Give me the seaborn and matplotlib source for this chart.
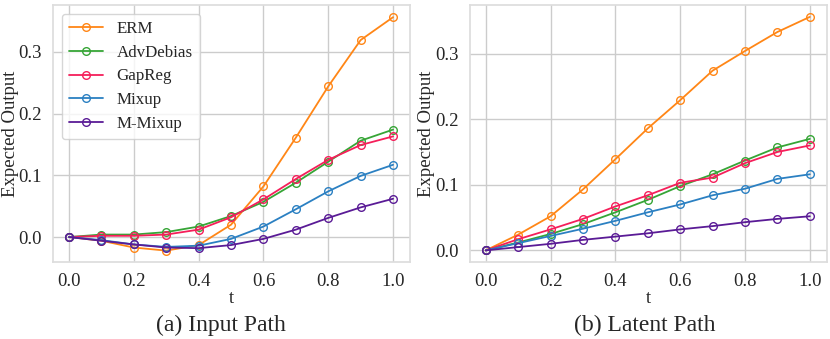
import numpy as np
import pandas as pd
import matplotlib
matplotlib.use('Agg')
import matplotlib.pyplot as plt
import seaborn as sns

# --- DATA ---
t = [0.0, 0.1, 0.2, 0.3, 0.4, 0.5, 0.6, 0.7, 0.8, 0.9, 1.0]
methods = ['ERM', 'AdvDebias', 'GapReg', 'Mixup', 'M-Mixup']
colors = ['#ff8616', '#36a536', '#f51f5a', '#2b80c2', '#5a1b96']

# (a) input path
input_erm = [0.0, -0.006, -0.017, -0.022, -0.013, 0.020, 0.082, 0.161, 0.244, 0.319, 0.356]
input_adv = [0.0, 0.004, 0.004, 0.008, 0.017, 0.034, 0.057, 0.088, 0.122, 0.156, 0.174]
input_gap = [0.0, 0.002, 0.002, 0.004, 0.012, 0.032, 0.061, 0.094, 0.125, 0.149, 0.163]
input_mix = [0.0, -0.005, -0.012, -0.016, -0.014, -0.003, 0.017, 0.045, 0.074, 0.099, 0.117]
input_mmix = [0.0, -0.006, -0.012, -0.017, -0.018, -0.013, -0.003, 0.012, 0.031, 0.048, 0.062]

# (b) latent path
latent_erm = [0.0, 0.024, 0.052, 0.093, 0.139, 0.186, 0.229, 0.274, 0.304, 0.333, 0.356]
latent_adv = [0.0, 0.012, 0.025, 0.040, 0.058, 0.077, 0.098, 0.116, 0.137, 0.157, 0.170]
latent_gap = [0.0, 0.017, 0.032, 0.048, 0.067, 0.084, 0.103, 0.111, 0.133, 0.150, 0.160]
latent_mix = [0.0, 0.011, 0.022, 0.033, 0.045, 0.058, 0.070, 0.084, 0.094, 0.109, 0.116]
latent_mmix = [0.0, 0.005, 0.010, 0.016, 0.021, 0.026, 0.032, 0.037, 0.043, 0.048, 0.052]


def to_long(series):
    rows = []
    for name, vals in zip(methods, series):
        for x, v in zip(t, vals):
            rows.append({'t': x, 'Expected Output': v, 'Method': name})
    return pd.DataFrame(rows)


df_input = to_long([input_erm, input_adv, input_gap, input_mix, input_mmix])
df_latent = to_long([latent_erm, latent_adv, latent_gap, latent_mix, latent_mmix])

# --- STYLE ---
sns.set_theme(style='whitegrid')
plt.rcParams['font.family'] = ['Liberation Serif', 'DejaVu Serif']

fig, axes = plt.subplots(1, 2, figsize=(8.3, 3.39), dpi=100)
fig.subplots_adjust(left=0.064, right=0.996, top=0.985, bottom=0.227, wspace=0.168)

palette = dict(zip(methods, colors))
titles = ['(a) Input Path', '(b) Latent Path']
title_x = [0.47, 0.49]
for ax, df, title, tx in zip(axes, [df_input, df_latent], titles, title_x):
    sns.lineplot(data=df, x='t', y='Expected Output', hue='Method', palette=palette,
                 marker='o', markersize=5.5, markerfacecolor='none', markeredgewidth=1.0,
                 linewidth=1.3, ax=ax, legend=(ax is axes[0]))
    for line in ax.lines:
        line.set_markeredgecolor(line.get_color())
    ax.set_xticks([0.0, 0.2, 0.4, 0.6, 0.8, 1.0])
    ax.set_yticks([0.0, 0.1, 0.2, 0.3])
    ax.set_xlim(-0.049, 1.052)
    ax.tick_params(axis='both', labelsize=13.5, pad=2)
    ax.set_xlabel('t', fontsize=13.5, labelpad=0)
    ax.set_ylabel('Expected Output', fontsize=13.5, labelpad=0)
    ax.text(tx, -0.205, title, transform=ax.transAxes, ha='center', va='top', fontsize=17)
    for s in ax.spines.values():
        s.set_color('#dddddd')

axes[0].set_ylim(-0.0405, 0.3756)
axes[1].set_ylim(-0.0178, 0.374)

leg = axes[0].legend(loc='upper left', fontsize=12.2, frameon=True, handlelength=2.0,
                     borderpad=0.45, labelspacing=0.45, handletextpad=0.8,
                     bbox_to_anchor=(0.0, 1.0), borderaxespad=0.5)
for h in leg.legend_handles:
    h.set_markerfacecolor('none')
    h.set_markeredgecolor(h.get_color())

fig.savefig('out.png', dpi=100)
